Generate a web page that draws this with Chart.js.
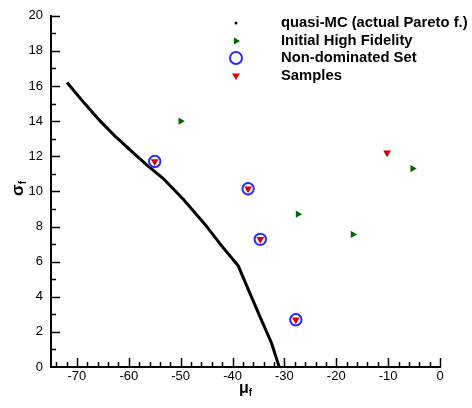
<!DOCTYPE html>
<html>
<head>
<meta charset="utf-8">
<script src="https://cdn.jsdelivr.net/npm/chart.js@4/dist/chart.umd.min.js"></script>
<style>
  html, body { margin: 0; padding: 0; background: #fff; }
  #wrap { position: relative; width: 472px; height: 408px; }
</style>
</head>
<body>
<div id="wrap"><canvas id="chart" width="472" height="408"></canvas></div>
<script>
// quasi-MC (actual Pareto front)
const paretoMu    = [-71.9, -68.5, -65.5, -62.5, -59.5, -56.5, -53.4, -49.5, -45.3, -42.1, -38.9, -36.6, -34.4, -32.45, -31.0];
const paretoSigma = [16.2, 15.0, 14.0, 13.1, 12.3, 11.5, 10.75, 9.55, 8.12, 6.9, 5.76, 4.16, 2.66, 1.34, 0.0];

// Initial High Fidelity
const hfMu    = [-50.0, -27.4, -16.8, -5.3];
const hfSigma = [14.0, 8.7, 7.55, 11.3];

// Non-dominated Set
const ndMu    = [-55.0, -37.0, -34.65, -27.8];
const ndSigma = [11.7, 10.15, 7.27, 2.69];

// Samples
const sampleMu    = [-55.0, -37.0, -34.65, -27.8, -10.2];
const sampleSigma = [11.7, 10.15, 7.27, 2.69, 12.2];

const legendLabels = ["quasi-MC (actual Pareto f.)", "Initial High Fidelity", "Non-dominated Set", "Samples"];
const xTicks = [-70, -60, -50, -40, -30, -20, -10, 0];
const yTicks = [0, 2, 4, 6, 8, 10, 12, 14, 16, 18, 20];

const COL = {
  green: "#006400",
  red: "#d80000",
  blue: "#2a2aff",
  black: "#000000"
};
const FONT = "'Liberation Sans', Arial, sans-serif";

function pts(xs, ys){ return xs.map((x, i) => ({ x, y: ys[i] })); }

// inward tick marks (major + minor), axis titles, legend
const decor = {
  id: "decor",
  afterDraw(chart){
    const { ctx, chartArea: a, scales: { x, y } } = chart;
    ctx.save();
    ctx.strokeStyle = "#000";
    ctx.lineWidth = 1.5;
    ctx.beginPath();
    for (let v = -74; v <= 0; v += 2){
      const px = Math.round(x.getPixelForValue(v)) + 0.5;
      const len = (v % 10 === 0) ? 9 : 5;
      ctx.moveTo(px, a.bottom); ctx.lineTo(px, a.bottom - len);
    }
    for (let v = 1; v <= 20; v += 1){
      const py = Math.round(y.getPixelForValue(v)) + 0.5;
      const len = (v % 2 === 0) ? 9 : 5;
      ctx.moveTo(a.left, py); ctx.lineTo(a.left + len, py);
    }
    ctx.stroke();

    // axis titles
    ctx.fillStyle = "#000";
    ctx.textBaseline = "alphabetic";
    ctx.textAlign = "left";
    ctx.font = "bold 16px " + FONT;
    const mx = 239, my = 393;
    ctx.fillText("μ", mx, my);
    const mw = ctx.measureText("μ").width;
    ctx.font = "bold 10px " + FONT;
    ctx.fillText("f", mx + mw, my + 3);

    ctx.save();
    ctx.translate(23, 196);
    ctx.rotate(-Math.PI / 2);
    ctx.font = "bold 17px " + FONT;
    ctx.fillText("σ", 0, 0);
    const sw = ctx.measureText("σ").width;
    ctx.font = "bold 10px " + FONT;
    ctx.fillText("f", sw, 3);
    ctx.restore();

    // legend
    const lx = 236, tx = 281, rows = [23, 41, 58, 76];
    ctx.fillStyle = COL.black;
    ctx.beginPath(); ctx.arc(lx, rows[0], 1.5, 0, Math.PI * 2); ctx.fill();
    ctx.fillStyle = COL.green;
    ctx.beginPath();
    ctx.moveTo(lx + 4, rows[1]); ctx.lineTo(lx - 2, rows[1] - 3.5); ctx.lineTo(lx - 2, rows[1] + 3.5);
    ctx.closePath(); ctx.fill();
    ctx.strokeStyle = COL.blue; ctx.lineWidth = 2;
    ctx.beginPath(); ctx.arc(lx, rows[2], 6, 0, Math.PI * 2); ctx.stroke();
    ctx.fillStyle = COL.red;
    ctx.beginPath();
    ctx.moveTo(lx, rows[3] + 4); ctx.lineTo(lx - 4, rows[3] - 2.5); ctx.lineTo(lx + 4, rows[3] - 2.5);
    ctx.closePath(); ctx.fill();

    ctx.fillStyle = "#000";
    ctx.font = "bold 14.8px " + FONT;
    ctx.textBaseline = "middle";
    legendLabels.forEach((t, i) => ctx.fillText(t, tx, rows[i]));
    ctx.restore();
  }
};

new Chart(document.getElementById("chart"), {
  type: "scatter",
  data: {
    datasets: [
      {
        label: legendLabels[3],
        data: pts(sampleMu, sampleSigma),
        pointStyle: "triangle",
        rotation: 180,
        pointRadius: 4.5,
        pointBackgroundColor: COL.red,
        pointBorderColor: COL.red,
        pointBorderWidth: 0,
        order: 0
      },
      {
        label: legendLabels[2],
        data: pts(ndMu, ndSigma),
        pointStyle: "circle",
        pointRadius: 5.7,
        pointBackgroundColor: "rgba(0,0,0,0)",
        pointBorderColor: COL.blue,
        pointBorderWidth: 2,
        order: 1
      },
      {
        label: legendLabels[1],
        data: pts(hfMu, hfSigma),
        pointStyle: "triangle",
        rotation: 90,
        pointRadius: 4.2,
        pointBackgroundColor: COL.green,
        pointBorderColor: COL.green,
        pointBorderWidth: 0,
        order: 2
      },
      {
        label: legendLabels[0],
        data: pts(paretoMu, paretoSigma),
        showLine: true,
        borderColor: COL.black,
        borderWidth: 3,
        pointRadius: 0,
        tension: 0,
        order: 3
      }
    ]
  },
  options: {
    responsive: false,
    animation: false,
    devicePixelRatio: 1,
    layout: { padding: { top: 13, right: 32, left: 0, bottom: 0 } },
    plugins: {
      legend: { display: false },
      tooltip: { enabled: false }
    },
    scales: {
      x: {
        type: "linear",
        min: -75,
        max: 0,
        afterBuildTicks: s => { s.ticks = xTicks.map(v => ({ value: v })); },
        afterFit: s => { s.height = 41; },
        grid: { display: false, drawTicks: false },
        border: { display: true, color: "#000", width: 2 },
        ticks: { color: "#000", padding: 2, font: { family: FONT, size: 13 } }
      },
      y: {
        type: "linear",
        min: 0,
        max: 20,
        afterBuildTicks: s => { s.ticks = yTicks.map(v => ({ value: v })); },
        afterFit: s => { s.width = 51; },
        grid: { display: false, drawTicks: false },
        border: { display: true, color: "#000", width: 2 },
        ticks: { color: "#000", padding: 8, font: { family: FONT, size: 13 } }
      }
    }
  },
  plugins: [decor]
});
</script>
</body>
</html>
